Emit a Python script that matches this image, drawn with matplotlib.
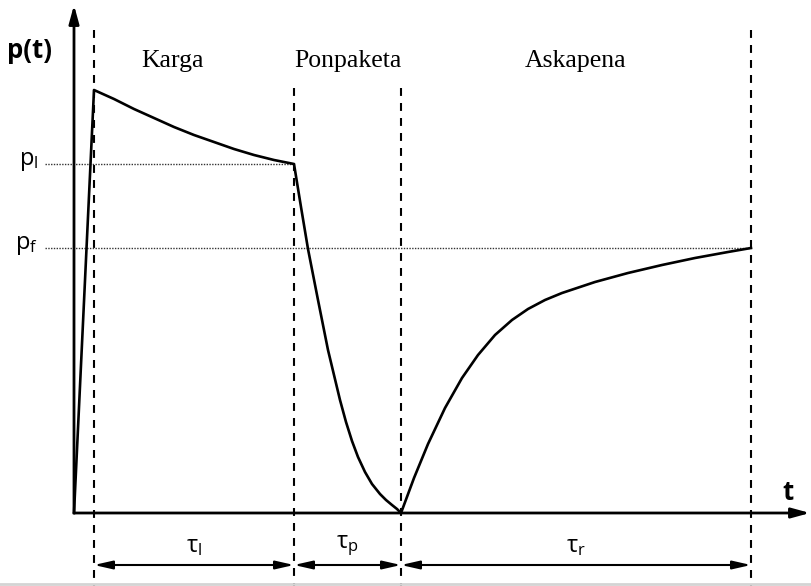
import matplotlib.pyplot as plt

plt.rcParams['mathtext.fontset'] = 'custom'
plt.rcParams['mathtext.rm'] = 'Open Sans'
plt.rcParams['mathtext.it'] = 'Open Sans'

# Phase boundaries (time) and pressure levels
t_phase = [0, 20, 220, 327, 677]
p_peak = 423
p_l = 349
p_f = 265

# Loading phase: decay from the peak down to p_l
t_load = [20, 40, 60, 80, 100, 120, 140, 160, 180, 200, 220]
p_load = [423, 414, 404, 395, 386, 378, 371, 364, 358, 353, 349]

# Pumping phase: drop from p_l to zero
t_pump = [220, 227, 234, 244, 254, 266, 272, 278, 284, 291, 298, 306, 312, 318, 323, 327]
p_pump = [349, 306, 264, 213, 163, 113, 91, 72, 56, 41, 29, 19, 13, 8, 4, 0]

# Recovery phase: rise from zero towards p_f
t_rec = [327, 340, 354, 371, 388, 404, 421, 438, 454, 471, 488,
         521, 554, 588, 621, 654, 677]
p_rec = [0, 35, 69, 105, 135, 158, 178, 193, 204, 213, 220,
         231, 240, 248, 255, 261, 265]

phase_names = ['Karga', 'Ponpaketa', 'Askapena']
tau_labels = [r'$\mathrm{τ}_\mathrm{l}$', r'$\mathrm{τ}_\mathrm{p}$', r'$\mathrm{τ}_\mathrm{r}$']

fig = plt.figure(figsize=(8.12, 5.86), dpi=100)
ax = fig.add_axes([0, 0, 1, 1])
ax.set_xlim(-74, 738)
ax.set_ylim(-73, 513)
ax.axis('off')

# full curve p(t)
t_all = [0] + t_load + t_pump[1:] + t_rec[1:]
p_all = [0] + p_load + p_pump[1:] + p_rec[1:]
ax.plot(t_all, p_all, color='black', lw=1.9, solid_joinstyle='round', zorder=3)

# axes with arrows
ax.annotate('', xy=(0, 508), xytext=(0, 0),
            arrowprops=dict(arrowstyle='-|>,head_length=1.1,head_width=0.3',
                            lw=2, color='black', shrinkA=0, shrinkB=0))
ax.annotate('', xy=(736, 0), xytext=(0, 0),
            arrowprops=dict(arrowstyle='-|>,head_length=1.1,head_width=0.3',
                            lw=2, color='black', shrinkA=0, shrinkB=0))

# dashed phase boundaries
tops = [483, 425, 425, 483]
for t, top in zip(t_phase[1:], tops):
    ax.plot([t, t], [top, -73], color='black', lw=1.5, dashes=(3.8, 3.4), zorder=2)

# dotted reference levels
ax.plot([-29, t_phase[2]], [p_l, p_l], color='#333333', lw=1, ls=(0, (1, 1)))
ax.plot([-29, t_phase[4]], [p_f, p_f], color='#333333', lw=1, ls=(0, (1, 1)))

# labels
ax.text(-44, 463, 'p(t)', family='Open Sans', weight='bold', fontsize=18.5,
        ha='center', va='center')
ax.text(714, 20, 't', family='Open Sans', weight='bold', fontsize=18.5,
        ha='center', va='center')
ax.text(-36, p_l + 3, r'$\mathrm{p}_\mathrm{l}$', fontsize=17, ha='right', va='center')
ax.text(-36, p_f + 3, r'$\mathrm{p}_\mathrm{f}$', fontsize=17, ha='right', va='center')

# phase names
for i, name in enumerate(phase_names):
    xc = (t_phase[i + 1] + t_phase[i + 2]) / 2
    if i == 0:
        xc = 99
    ax.text(xc, 446, name, family='Liberation Serif', fontsize=18.5,
            ha='center', va='baseline')

# duration arrows
for i, lab in enumerate(tau_labels):
    a, b = t_phase[i + 1], t_phase[i + 2]
    ax.annotate('', xy=(b, -52), xytext=(a, -52),
                arrowprops=dict(arrowstyle='<|-|>,head_length=1.1,head_width=0.25',
                                lw=1.5, color='black', shrinkA=0, shrinkB=0))
    ax.text((a + b) / 2, -33, lab, fontsize=17, ha='center', va='center')

# thin grey rule along the bottom edge
ax.plot([-74, 738], [-71, -71], color='#d4d4d4', lw=2)

fig.savefig('out.png', dpi=100)
